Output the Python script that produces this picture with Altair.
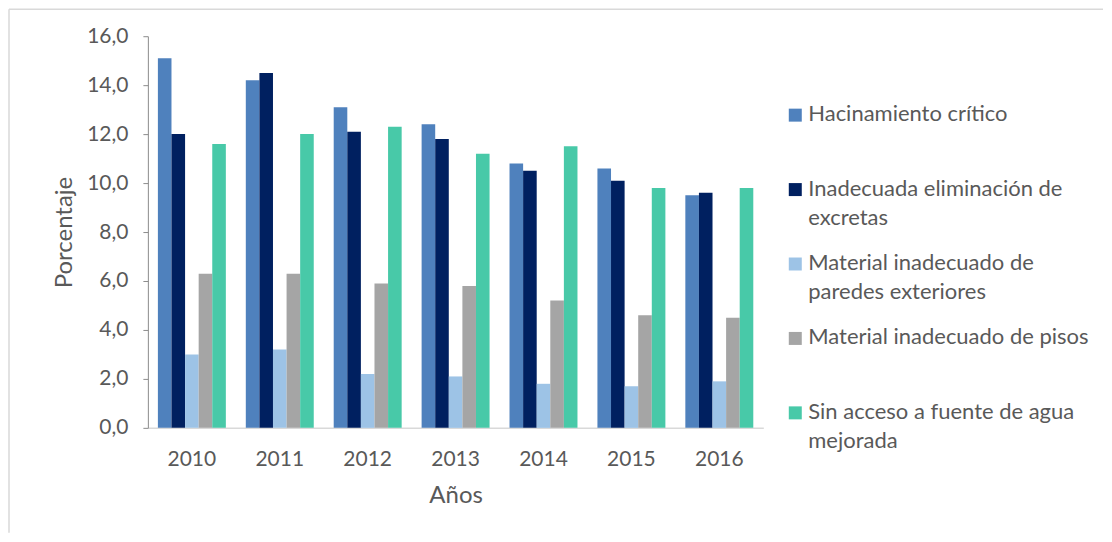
import altair as alt
import pandas as pd

years = ["2010", "2011", "2012", "2013", "2014", "2015", "2016"]
series = [
    "Hacinamiento crítico",
    "Inadecuada eliminación de excretas",
    "Material inadecuado de paredes exteriores",
    "Material inadecuado de pisos",
    "Sin acceso a fuente de agua mejorada",
]
legend_labels = [
    "Hacinamiento crítico",
    "Inadecuada eliminación de\nexcretas",
    "Material inadecuado de\nparedes exteriores",
    "Material inadecuado de pisos",
    "Sin acceso a fuente de agua\nmejorada",
]
colors = ["#4F81BD", "#002060", "#9DC3E6", "#A5A5A5", "#48C9A8"]

hacinamiento = [15.1, 14.2, 13.1, 12.4, 10.8, 10.6, 9.5]
excretas = [12.0, 14.5, 12.1, 11.8, 10.5, 10.1, 9.6]
paredes = [3.0, 3.2, 2.2, 2.1, 1.8, 1.7, 1.9]
pisos = [6.3, 6.3, 5.9, 5.8, 5.2, 4.6, 4.5]
agua = [11.6, 12.0, 12.3, 11.2, 11.5, 9.8, 9.8]

y_ticks = [0, 2, 4, 6, 8, 10, 12, 14, 16]

values = [hacinamiento, excretas, paredes, pisos, agua]
rows = []
for s, vals in zip(series, values):
    for yr, v in zip(years, vals):
        rows.append({"Año": yr, "Serie": s, "Valor": v})
df = pd.DataFrame(rows)

FONT = "Lato"
TXT = "#595959"
FRAME = "#D9D9D9"

color_scale = alt.Scale(domain=series, range=colors)

bars = alt.Chart(df).mark_bar().encode(
    x=alt.X(
        "Año:N",
        sort=years,
        scale=alt.Scale(paddingInner=0.227, paddingOuter=0.114),
        axis=alt.Axis(
            title="Años", labelAngle=0, ticks=False, domainColor="#D9D9D9",
            domainWidth=1.5, labelPadding=21, titlePadding=14,
            titleFontSize=24,
        ),
    ),
    xOffset=alt.XOffset("Serie:N", sort=series,
                        scale=alt.Scale(paddingInner=0, paddingOuter=0)),
    y=alt.Y(
        "Valor:Q",
        scale=alt.Scale(domain=[0, 16]),
        axis=alt.Axis(
            title="Porcentaje", values=y_ticks,
            labelExpr="replace(format(datum.value, '.1f'), '.', ',')",
            grid=False, tickSize=5, domainColor="#8C8C8C", tickColor="#8C8C8C",
            labelPadding=15, titlePadding=10, titleFontSize=24,
        ),
    ),
    color=alt.Color("Serie:N", sort=series, scale=color_scale, legend=None),
)

# light outer frame of the chart (top and left edges), decoration only
one = pd.DataFrame({"k": [0]})
frame_top = alt.Chart(one).mark_rule(color=FRAME, strokeWidth=1.5).encode(
    x=alt.value(-139), x2=alt.value(956), y=alt.value(-27)
)
frame_left = alt.Chart(one).mark_rule(color=FRAME, strokeWidth=1.5).encode(
    x=alt.value(-139), y=alt.value(-27), y2=alt.value(497)
)

main = alt.layer(frame_top, frame_left, bars).properties(width=616, height=392)

leg_df = pd.DataFrame({"Serie": series, "Etiqueta": legend_labels})
ybase = alt.Y("Serie:N", sort=series,
              scale=alt.Scale(type="point", range=[79, 377], padding=0),
              axis=None)
sq = alt.Chart(leg_df).mark_square(size=169, opacity=1).encode(
    x=alt.value(12), y=ybase,
    color=alt.Color("Serie:N", sort=series, scale=color_scale, legend=None),
)
tx = alt.Chart(leg_df).mark_text(
    align="left", baseline="top", dy=-11, lineBreak="\n", lineHeight=29,
    font=FONT, fontSize=22, color=TXT,
).encode(x=alt.value(25), y=ybase, text="Etiqueta:N")
legend = (sq + tx).properties(width=300, height=392)

chart = alt.hconcat(main, legend, spacing=20, bounds="flush").resolve_scale(
    y="independent", x="independent"
).properties(
    padding={"left": 0, "top": 0, "right": 0, "bottom": 0}
).configure_view(stroke=None).configure_axis(
    labelFont=FONT, titleFont=FONT, labelFontSize=21, titleFontSize=24,
    labelColor=TXT, titleColor=TXT, titleFontWeight="normal",
)

chart.save("out.html", embed_options={"renderer": "svg", "actions": False})
